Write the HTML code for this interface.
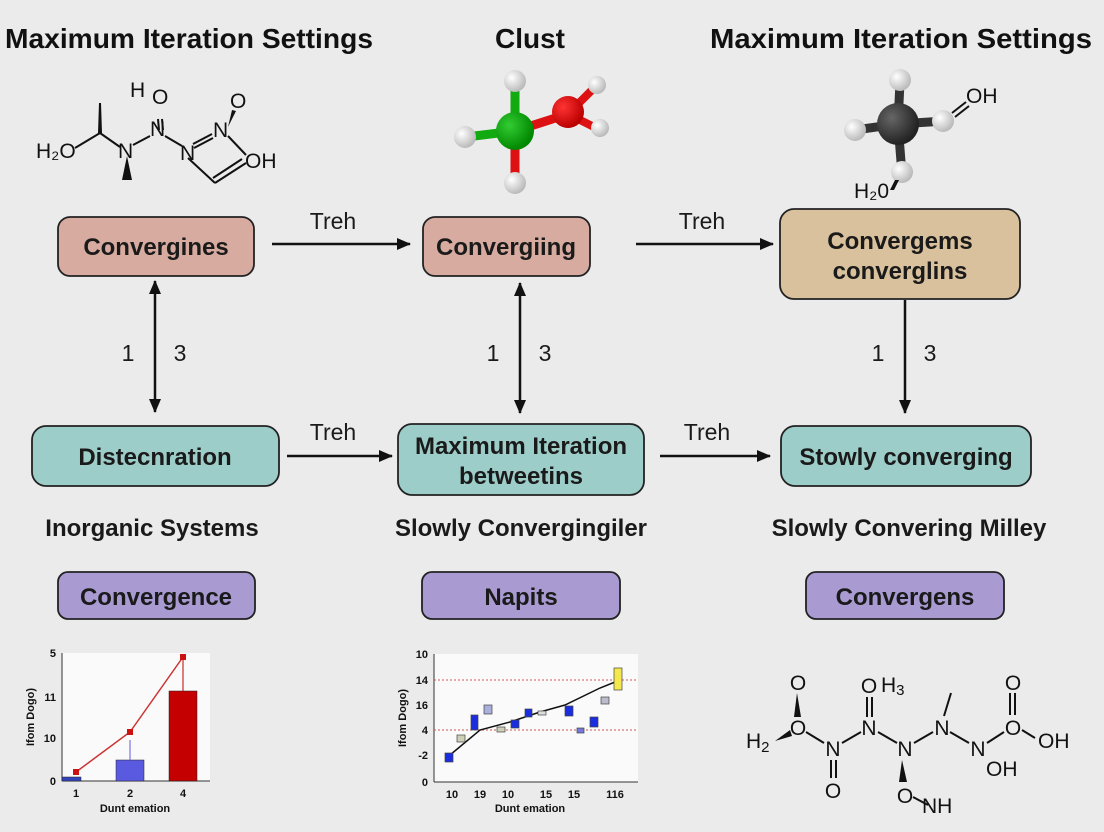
<!DOCTYPE html>
<html><head><meta charset="utf-8"><style>
html,body{margin:0;padding:0;background:#ebebeb;}
svg{display:block;font-family:"Liberation Sans",sans-serif;}
.t{font-weight:bold;font-size:28px;fill:#111;}
.b{font-weight:bold;font-size:24px;fill:#1a1a1a;}
.l{font-size:23px;fill:#1a1a1a;}
.m{font-size:21px;fill:#111;}
.c{font-size:21px;fill:#111;text-anchor:middle;}
.s{font-size:11px;fill:#111;font-weight:bold;}
</style></head><body>
<svg width="1104" height="832" viewBox="0 0 1104 832">
<defs>
<marker id="as" markerWidth="14" markerHeight="12" refX="13" refY="6" orient="auto-start-reverse" markerUnits="userSpaceOnUse"><path d="M0,0 L14,6 L0,12 z" fill="#111"/></marker>
<radialGradient id="gw" cx="35%" cy="35%" r="65%"><stop offset="0" stop-color="#fff"/><stop offset="1" stop-color="#bbb"/></radialGradient>
<radialGradient id="gg" cx="35%" cy="35%" r="65%"><stop offset="0" stop-color="#3c3"/><stop offset="1" stop-color="#080"/></radialGradient>
<radialGradient id="gr" cx="35%" cy="35%" r="65%"><stop offset="0" stop-color="#f33"/><stop offset="1" stop-color="#b00"/></radialGradient>
<radialGradient id="gk" cx="35%" cy="35%" r="65%"><stop offset="0" stop-color="#666"/><stop offset="1" stop-color="#222"/></radialGradient>
</defs>
<rect width="1104" height="832" fill="#ebebeb"/>
<text class="t" x="189" y="48" text-anchor="middle" textLength="368" lengthAdjust="spacingAndGlyphs">Maximum Iteration Settings</text>
<text class="t" x="530" y="48" text-anchor="middle">Clust</text>
<text class="t" x="901" y="48" text-anchor="middle" textLength="382" lengthAdjust="spacingAndGlyphs">Maximum Iteration Settings</text>

<!-- left 2D molecule -->
<g stroke="#111" stroke-width="2" fill="none">
<line x1="75" y1="148" x2="100" y2="133"/><line x1="100" y1="133" x2="120" y2="147"/>
<line x1="133" y1="145" x2="150" y2="136"/><line x1="159" y1="130" x2="158" y2="119"/><line x1="163" y1="130" x2="162" y2="119"/>
<line x1="165" y1="136" x2="182" y2="146"/>
<line x1="193" y1="144" x2="212" y2="134"/><line x1="194" y1="148" x2="213" y2="138"/>
<line x1="228" y1="136" x2="246" y2="155"/>
<line x1="188" y1="158" x2="215" y2="183"/><line x1="215" y1="183" x2="246" y2="163"/><line x1="213" y1="178" x2="242" y2="159"/>
</g>
<path d="M98,133 L102,133 L101,103 L99,103 z" fill="#111"/>
<path d="M127,156 L122,180 L132,180 z" fill="#111"/>
<path d="M228,127 L236,111 L232,110 z" fill="#111"/>
<text class="m" x="36" y="158">H₂O</text>
<text class="m" x="118" y="158">N</text>
<text class="m" x="130" y="97">H</text>
<text class="m" x="152" y="104">O</text>
<text class="m" x="150" y="136">N</text>
<text class="m" x="180" y="160">N</text>
<text class="m" x="213" y="137">N</text>
<text class="m" x="230" y="108">O</text>
<text class="m" x="245" y="168">OH</text>

<!-- middle 3D molecule -->
<g stroke-linecap="round">
<line x1="515" y1="131" x2="515" y2="82" stroke="#1a1" stroke-width="9"/>
<line x1="515" y1="131" x2="466" y2="137" stroke="#1a1" stroke-width="9"/>
<line x1="515" y1="131" x2="515" y2="186" stroke="#d11" stroke-width="9"/>
<line x1="515" y1="131" x2="568" y2="114" stroke="#d11" stroke-width="9"/>
<line x1="568" y1="114" x2="597" y2="85" stroke="#d11" stroke-width="8"/>
<line x1="568" y1="114" x2="600" y2="130" stroke="#d11" stroke-width="8"/>
</g>
<circle cx="515" cy="81" r="11" fill="url(#gw)"/>
<circle cx="465" cy="137" r="11" fill="url(#gw)"/>
<circle cx="515" cy="183" r="11" fill="url(#gw)"/>
<circle cx="515" cy="131" r="19" fill="url(#gg)"/>
<circle cx="568" cy="112" r="16" fill="url(#gr)"/>
<circle cx="597" cy="85" r="9" fill="url(#gw)"/>
<circle cx="600" cy="128" r="9" fill="url(#gw)"/>

<!-- right 3D molecule -->
<g stroke="#333" stroke-width="9">
<line x1="898" y1="124" x2="900" y2="82"/><line x1="898" y1="124" x2="855" y2="130"/>
<line x1="898" y1="124" x2="945" y2="121"/><line x1="898" y1="124" x2="902" y2="174"/>
</g>
<circle cx="900" cy="80" r="11" fill="url(#gw)"/>
<circle cx="855" cy="130" r="11" fill="url(#gw)"/>
<circle cx="943" cy="121" r="11" fill="url(#gw)"/>
<circle cx="902" cy="172" r="11" fill="url(#gw)"/>
<circle cx="898" cy="124" r="21" fill="url(#gk)"/>
<g stroke="#111" stroke-width="2"><line x1="952" y1="113" x2="966" y2="102"/><line x1="955" y1="117" x2="969" y2="106"/></g>
<path d="M895,180 L899,180 L894,190 L890,190 z" fill="#111"/>
<text class="m" x="966" y="103">OH</text>
<text class="m" x="854" y="198">H₂0</text>

<!-- row 1 boxes -->
<rect x="58" y="217" width="196" height="59" rx="12" fill="#d7aba0" stroke="#222" stroke-width="1.8"/>
<text class="b" x="156" y="255" text-anchor="middle">Convergines</text>
<rect x="423" y="217" width="167" height="59" rx="12" fill="#d7aba0" stroke="#222" stroke-width="1.8"/>
<text class="b" x="506" y="255" text-anchor="middle">Convergiing</text>
<rect x="780" y="209" width="240" height="90" rx="14" fill="#d8c19c" stroke="#222" stroke-width="1.8"/>
<text class="b" x="900" y="249" text-anchor="middle">Convergems</text>
<text class="b" x="900" y="279" text-anchor="middle">converglins</text>

<line x1="272" y1="244" x2="410" y2="244" stroke="#111" stroke-width="2.5" marker-end="url(#as)"/>
<text class="l" x="333" y="229" text-anchor="middle">Treh</text>
<line x1="636" y1="244" x2="773" y2="244" stroke="#111" stroke-width="2.5" marker-end="url(#as)"/>
<text class="l" x="702" y="229" text-anchor="middle">Treh</text>

<line x1="155" y1="281" x2="155" y2="412" stroke="#111" stroke-width="2.5" marker-start="url(#as)" marker-end="url(#as)"/>
<text class="l" x="128" y="361" text-anchor="middle">1</text>
<text class="l" x="180" y="361" text-anchor="middle">3</text>
<line x1="520" y1="283" x2="520" y2="413" stroke="#111" stroke-width="2.5" marker-start="url(#as)" marker-end="url(#as)"/>
<text class="l" x="493" y="361" text-anchor="middle">1</text>
<text class="l" x="545" y="361" text-anchor="middle">3</text>
<line x1="905" y1="300" x2="905" y2="413" stroke="#111" stroke-width="2.5" marker-end="url(#as)"/>
<text class="l" x="878" y="361" text-anchor="middle">1</text>
<text class="l" x="930" y="361" text-anchor="middle">3</text>

<!-- row 2 boxes -->
<rect x="32" y="426" width="247" height="60" rx="14" fill="#9dcdc9" stroke="#222" stroke-width="1.8"/>
<text class="b" x="155" y="465" text-anchor="middle">Distecnration</text>
<rect x="398" y="424" width="246" height="71" rx="14" fill="#9dcdc9" stroke="#222" stroke-width="1.8"/>
<text class="b" x="521" y="454" text-anchor="middle">Maximum Iteration</text>
<text class="b" x="521" y="484" text-anchor="middle">betweetins</text>
<rect x="781" y="426" width="250" height="60" rx="14" fill="#9dcdc9" stroke="#222" stroke-width="1.8"/>
<text class="b" x="906" y="465" text-anchor="middle">Stowly converging</text>

<line x1="287" y1="456" x2="392" y2="456" stroke="#111" stroke-width="2.5" marker-end="url(#as)"/>
<text class="l" x="333" y="440" text-anchor="middle">Treh</text>
<line x1="660" y1="456" x2="770" y2="456" stroke="#111" stroke-width="2.5" marker-end="url(#as)"/>
<text class="l" x="707" y="440" text-anchor="middle">Treh</text>

<text class="b" x="152" y="536" text-anchor="middle">Inorganic Systems</text>
<text class="b" x="521" y="536" text-anchor="middle">Slowly Convergingiler</text>
<text class="b" x="909" y="536" text-anchor="middle">Slowly Convering Milley</text>

<rect x="58" y="572" width="197" height="47" rx="10" fill="#a99bd2" stroke="#222" stroke-width="1.8"/>
<text class="b" x="156" y="605" text-anchor="middle">Convergence</text>
<rect x="422" y="572" width="198" height="47" rx="10" fill="#a99bd2" stroke="#222" stroke-width="1.8"/>
<text class="b" x="521" y="605" text-anchor="middle">Napits</text>
<rect x="806" y="572" width="198" height="47" rx="10" fill="#a99bd2" stroke="#222" stroke-width="1.8"/>
<text class="b" x="905" y="605" text-anchor="middle">Convergens</text>

<!-- chart 1 -->
<rect x="62" y="653" width="148" height="128" fill="#fafafa"/>
<line x1="62" y1="653" x2="62" y2="781" stroke="#333"/>
<line x1="62" y1="781" x2="210" y2="781" stroke="#333"/>
<rect x="62" y="777" width="19" height="4" fill="#3344bb" stroke="#222" stroke-width=".5"/>
<rect x="116" y="760" width="28" height="21" fill="#5a5ae0" stroke="#222" stroke-width=".5"/>
<line x1="130" y1="760" x2="130" y2="740" stroke="#5a5ae0"/>
<rect x="169" y="691" width="28" height="90" fill="#c40000" stroke="#222" stroke-width=".5"/>
<line x1="183" y1="691" x2="183" y2="657" stroke="#c40000"/>
<polyline points="76,772 130,732 183,657" fill="none" stroke="#c33" stroke-width="1.5"/>
<rect x="73" y="769" width="6" height="6" fill="#c11"/><rect x="127" y="729" width="6" height="6" fill="#c11"/><rect x="180" y="654" width="6" height="6" fill="#c11"/>
<text class="s" x="56" y="657" text-anchor="end">5</text>
<text class="s" x="56" y="701" text-anchor="end">11</text>
<text class="s" x="56" y="742" text-anchor="end">10</text>
<text class="s" x="56" y="785" text-anchor="end">0</text>
<text class="s" x="76" y="797" text-anchor="middle">1</text>
<text class="s" x="130" y="797" text-anchor="middle">2</text>
<text class="s" x="183" y="797" text-anchor="middle">4</text>
<text class="s" x="135" y="812" text-anchor="middle">Dunt emation</text>
<text class="s" x="34" y="717" text-anchor="middle" transform="rotate(-90 34 717)">Ifom Dogo)</text>

<!-- chart 2 -->
<rect x="434" y="654" width="204" height="128" fill="#fafafa"/>
<line x1="434" y1="654" x2="434" y2="782" stroke="#333"/>
<line x1="434" y1="782" x2="638" y2="782" stroke="#333"/>
<line x1="434" y1="680" x2="636" y2="680" stroke="#c55" stroke-dasharray="2,2"/>
<line x1="434" y1="730" x2="636" y2="730" stroke="#c55" stroke-dasharray="2,2"/>
<polyline points="450,755 480,730 510,722 540,712 565,705 600,688 620,680" fill="none" stroke="#111" stroke-width="1.5"/>
<g stroke="#444" stroke-width=".7">
<rect x="445" y="753" width="8" height="9" fill="#1a2ee0"/>
<rect x="457" y="735" width="8" height="7" fill="#cfcfb8"/>
<rect x="471" y="715" width="7" height="15" fill="#1a2ee0"/>
<rect x="484" y="705" width="8" height="9" fill="#aab0dd"/>
<rect x="497" y="727" width="8" height="5" fill="#cfcfb8"/>
<rect x="511" y="720" width="8" height="8" fill="#1a2ee0"/>
<rect x="525" y="709" width="7" height="8" fill="#1a2ee0"/>
<rect x="538" y="711" width="8" height="4" fill="#ddd"/>
<rect x="565" y="706" width="8" height="10" fill="#1a2ee0"/>
<rect x="577" y="728" width="7" height="5" fill="#7777dd"/>
<rect x="590" y="717" width="8" height="10" fill="#1a2ee0"/>
<rect x="601" y="697" width="8" height="7" fill="#bbc"/>
<rect x="614" y="668" width="8" height="22" fill="#f4e84a"/>
</g>
<text class="s" x="428" y="658" text-anchor="end">10</text>
<text class="s" x="428" y="684" text-anchor="end">14</text>
<text class="s" x="428" y="709" text-anchor="end">16</text>
<text class="s" x="428" y="734" text-anchor="end">4</text>
<text class="s" x="428" y="759" text-anchor="end">-2</text>
<text class="s" x="428" y="786" text-anchor="end">0</text>
<text class="s" x="452" y="798" text-anchor="middle">10</text>
<text class="s" x="480" y="798" text-anchor="middle">19</text>
<text class="s" x="508" y="798" text-anchor="middle">10</text>
<text class="s" x="546" y="798" text-anchor="middle">15</text>
<text class="s" x="574" y="798" text-anchor="middle">15</text>
<text class="s" x="615" y="798" text-anchor="middle">116</text>
<text class="s" x="530" y="812" text-anchor="middle">Dunt emation</text>
<text class="s" x="406" y="718" text-anchor="middle" transform="rotate(-90 406 718)">Ifom Dogo)</text>

<!-- right 2D molecule -->
<g stroke="#111" stroke-width="2">
<line x1="806" y1="732" x2="824" y2="743"/>
<line x1="842" y1="743" x2="861" y2="732"/>
<line x1="878" y1="732" x2="897" y2="743"/>
<line x1="914" y1="743" x2="933" y2="732"/>
<line x1="950" y1="732" x2="969" y2="743"/>
<line x1="987" y1="743" x2="1004" y2="732"/>
<line x1="1022" y1="730" x2="1035" y2="738"/>
<line x1="831" y1="760" x2="831" y2="778"/><line x1="836" y1="760" x2="836" y2="778"/>
<line x1="867" y1="717" x2="867" y2="697"/><line x1="872" y1="717" x2="872" y2="697"/>
<line x1="1010" y1="715" x2="1010" y2="693"/><line x1="1015" y1="715" x2="1015" y2="693"/>
<line x1="944" y1="716" x2="951" y2="693"/>
<line x1="913" y1="797" x2="928" y2="805"/>
</g>
<path d="M775,741 L790,730 L792,736 z" fill="#111"/>
<path d="M797,693 L794,717 L801,717 z" fill="#111"/>
<path d="M902,760 L899,782 L907,782 z" fill="#111"/>
<text class="m" x="746" y="748">H<tspan font-size="15" dy="4">2</tspan></text>
<text class="c" x="798" y="690">O</text>
<text class="c" x="798" y="735">O</text>
<text class="c" x="833" y="756">N</text>
<text class="c" x="833" y="798">O</text>
<text class="c" x="869" y="735">N</text>
<text class="c" x="869" y="693">O</text>
<text class="m" x="881" y="692">H<tspan font-size="15" dy="3">3</tspan></text>
<text class="c" x="905" y="756">N</text>
<text class="c" x="905" y="803">O</text>
<text class="m" x="922" y="813">NH</text>
<text class="c" x="942" y="735">N</text>
<text class="c" x="978" y="756">N</text>
<text class="m" x="986" y="776">OH</text>
<text class="c" x="1013" y="735">O</text>
<text class="c" x="1013" y="690">O</text>
<text class="m" x="1038" y="748">OH</text>
</svg>
</body></html>
